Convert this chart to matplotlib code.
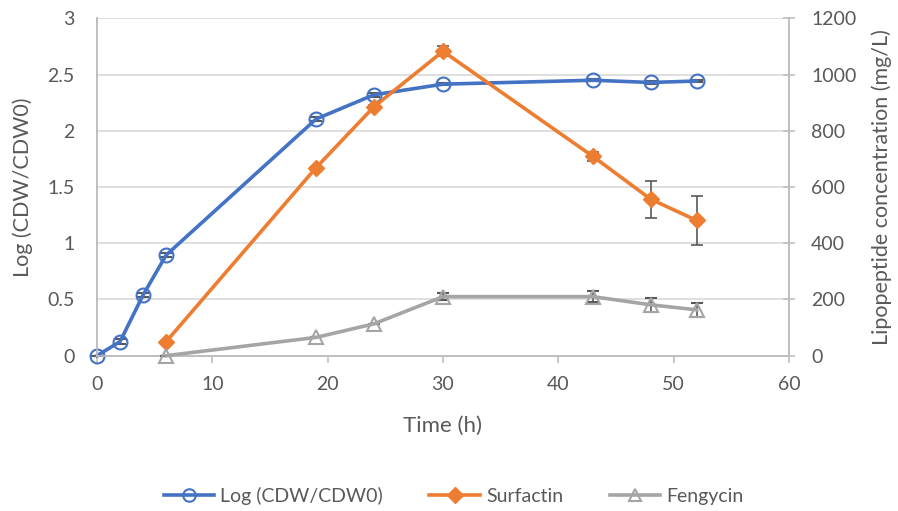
import matplotlib
matplotlib.use("Agg")
import matplotlib.pyplot as plt
from matplotlib.lines import Line2D

plt.rcParams['font.family'] = ['Lato', 'DejaVu Sans']

# Growth (primary axis)
t_growth = [0, 2, 4, 6, 19, 24, 30, 43, 48, 52]
log_cdw = [0.0, 0.125, 0.54, 0.895, 2.105, 2.32, 2.415, 2.45, 2.43, 2.443]
log_cdw_err = [0.0, 0.02, 0.02, 0.02, 0.02, 0.02, 0.01, 0.01, 0.01, 0.01]

# Lipopeptides (secondary axis, mg/L)
t_lipo = [6, 19, 24, 30, 43, 48, 52]
surfactin = [50, 669, 885, 1083, 709, 557, 481]
surfactin_err = [0, 0, 8, 18, 15, 66, 86]
fengycin = [0, 65, 113, 210, 210, 181, 163]
fengycin_err = [0, 0, 0, 12, 20, 25, 25]

x_ticks = [0, 10, 20, 30, 40, 50, 60]
left_ticks = [0, 0.5, 1, 1.5, 2, 2.5, 3]
left_tick_labels = ["0", "0.5", "1", "1.5", "2", "2.5", "3"]
right_ticks = [0, 200, 400, 600, 800, 1000, 1200]

BLUE = "#4472C4"
ORANGE = "#ED7D31"
GRAY = "#A5A5A5"
ERR = "#595959"
AXIS = "#BFBFBF"
GRID = "#D9D9D9"
TXT = "#595959"

fig = plt.figure(figsize=(8.98, 5.11), dpi=100)
ax = fig.add_axes([0.108, 0.304, 0.7706, 0.66])
ax2 = ax.twinx()

ax.set_xlim(0, 60)
ax.set_ylim(0, 3)
ax2.set_ylim(0, 1200)

ax.set_xticks(x_ticks)
ax.set_yticks(left_ticks)
ax.set_yticklabels(left_tick_labels)
ax2.set_yticks(right_ticks)

ax.yaxis.grid(True, color=GRID, linewidth=1.2)
ax.set_axisbelow(True)

for a in (ax, ax2):
    for s in a.spines.values():
        s.set_color(AXIS)
        s.set_linewidth(1.2)
    a.spines['top'].set_visible(False)

ax.tick_params(axis='x', direction='out', length=5, width=1.2, color=AXIS,
               labelsize=14, labelcolor=TXT, pad=10)
ax.tick_params(axis='y', length=0, labelsize=14, labelcolor=TXT, pad=16)
ax2.tick_params(axis='y', direction='inout', length=8, width=1.2, color=AXIS,
                labelsize=14, labelcolor=TXT, pad=12)

ax.errorbar(t_growth, log_cdw, yerr=log_cdw_err, color=BLUE, linewidth=2.6,
            marker='o', markersize=10, markerfacecolor='none',
            markeredgecolor=BLUE, markeredgewidth=1.5,
            ecolor=ERR, elinewidth=1.2, capsize=4, capthick=1.2,
            zorder=3, clip_on=False)

ax2.errorbar(t_lipo, surfactin, yerr=surfactin_err, color=ORANGE, linewidth=2.6,
             marker='D', markersize=8.5, markerfacecolor=ORANGE,
             markeredgecolor=ORANGE, ecolor=ERR, elinewidth=1.2,
             capsize=4.5, capthick=1.2, zorder=3, clip_on=False)

ax2.errorbar(t_lipo, fengycin, yerr=fengycin_err, color=GRAY, linewidth=2.6,
             marker='^', markersize=10, markerfacecolor='none',
             markeredgecolor=GRAY, markeredgewidth=1.5,
             ecolor=ERR, elinewidth=1.2, capsize=4.5, capthick=1.2,
             zorder=3, clip_on=False)

ax.set_xlabel("Time (h)", fontsize=16, color=TXT, labelpad=16)
ax.set_ylabel("Log (CDW/CDW0)", fontsize=15.5, color=TXT, labelpad=10)
ax2.set_ylabel("Lipopeptide concentration (mg/L)", fontsize=15.5, color=TXT,
               labelpad=11)

handles = [
    Line2D([], [], color=BLUE, linewidth=2.6, marker='o', markersize=9,
           markerfacecolor='none', markeredgecolor=BLUE, markeredgewidth=1.5),
    Line2D([], [], color=ORANGE, linewidth=2.6, marker='D', markersize=8,
           markerfacecolor=ORANGE, markeredgecolor=ORANGE),
    Line2D([], [], color=GRAY, linewidth=2.6, marker='^', markersize=9,
           markerfacecolor='none', markeredgecolor=GRAY, markeredgewidth=1.5),
]
labels = ["Log (CDW/CDW0)", "Surfactin", "Fengycin"]
leg = fig.legend(handles, labels, loc='center', bbox_to_anchor=(0.505, 0.03),
                 ncol=3, frameon=False, fontsize=14, handlelength=2.6,
                 columnspacing=2.4, handletextpad=0.3)
for txt in leg.get_texts():
    txt.set_color(TXT)

fig.savefig("out.png", dpi=100)
